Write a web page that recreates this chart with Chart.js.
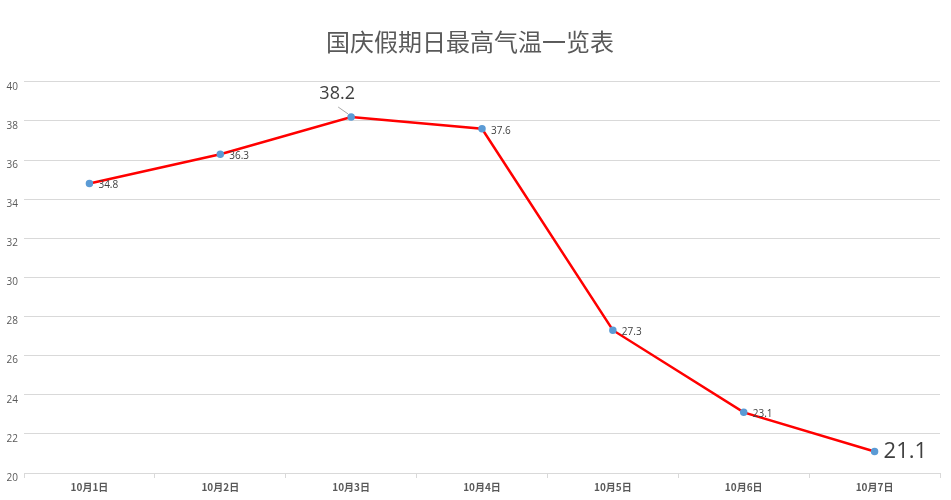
<!DOCTYPE html>
<html>
<head>
<meta charset="utf-8">
<script src="https://cdn.jsdelivr.net/npm/chart.js@4"></script>
<style>
  html, body { margin: 0; padding: 0; background: #fff; }
  #wrap { width: 951px; height: 500px; }
</style>
</head>
<body>
<div id="wrap"><canvas id="myChart"></canvas></div>
<script>
const days = ["10月1日", "10月2日", "10月3日", "10月4日", "10月5日", "10月6日", "10月7日"];
const temps = [34.8, 36.3, 38.2, 37.6, 27.3, 23.1, 21.1];
const yTicks = [20, 22, 24, 26, 28, 30, 32, 34, 36, 38, 40];

// draws the value next to every point, two of them larger
const valueLabels = {
  id: 'valueLabels',
  afterDatasetsDraw(chart) {
    const ctx = chart.ctx;
    const meta = chart.getDatasetMeta(0);
    ctx.save();
    meta.data.forEach((pt, i) => {
      const text = temps[i].toFixed(1);
      if (i === 2) {
        ctx.strokeStyle = '#a6a6a6';
        ctx.lineWidth = 1;
        ctx.beginPath();
        ctx.moveTo(pt.x - 3, pt.y - 3);
        ctx.lineTo(pt.x - 13, pt.y - 10);
        ctx.stroke();
        ctx.font = '18px "Open Sans", sans-serif';
        ctx.fillStyle = '#404040';
        ctx.textAlign = 'center';
        ctx.textBaseline = 'middle';
        ctx.fillText(text, pt.x - 14, pt.y - 23);
      } else if (i === 6) {
        ctx.font = '22px "Open Sans", sans-serif';
        ctx.fillStyle = '#404040';
        ctx.textAlign = 'left';
        ctx.textBaseline = 'middle';
        ctx.fillText(text, pt.x + 9, pt.y);
      } else {
        ctx.font = '10px "Open Sans", sans-serif';
        ctx.fillStyle = '#404040';
        ctx.textAlign = 'left';
        ctx.textBaseline = 'middle';
        ctx.fillText(text, pt.x + 9, pt.y + 2);
      }
    });
    ctx.restore();
  }
};

const ctx = document.getElementById('myChart').getContext('2d');
const myChart = new Chart(ctx, {
  type: 'line',
  data: {
    labels: days,
    datasets: [{
      label: '最高气温',
      data: temps,
      borderColor: '#ff0000',
      borderWidth: 2.5,
      pointBackgroundColor: '#5b9bd5',
      pointBorderColor: '#5b9bd5',
      pointRadius: 2.5,
      tension: 0
    }]
  },
  options: {
    responsive: true,
    maintainAspectRatio: false,
    animation: false,
    layout: { padding: { left: 0, right: 11, top: 0, bottom: 0 } },
    plugins: {
      legend: { display: false },
      tooltip: { enabled: false },
      title: {
        display: true,
        text: '国庆假期日最高气温一览表',
        color: '#595959',
        font: { family: '"Noto Sans CJK SC", sans-serif', size: 24, weight: 'normal' },
        padding: { top: 27, bottom: 26 }
      }
    },
    scales: {
      x: {
        offset: true,
        grid: { offset: true, drawOnChartArea: false, drawTicks: true, tickLength: 5, color: '#d9d9d9' },
        border: { color: '#d9d9d9' },
        ticks: {
          color: '#595959',
          padding: 3,
          font: { family: '"Noto Sans CJK SC", sans-serif', size: 10, weight: 'bold' }
        },
        afterFit(scale) { scale.height = 27; }
      },
      y: {
        min: 20,
        max: 40,
        afterBuildTicks(scale) { scale.ticks = yTicks.map(v => ({ value: v })); },
        grid: { color: '#d9d9d9', drawTicks: false },
        border: { display: false },
        ticks: {
          color: '#595959',
          padding: 6,
          align: 'start',
          font: { family: '"Open Sans", sans-serif', size: 10 }
        },
        afterFit(scale) { scale.width = 24; }
      }
    }
  },
  plugins: [valueLabels]
});
</script>
</body>
</html>
